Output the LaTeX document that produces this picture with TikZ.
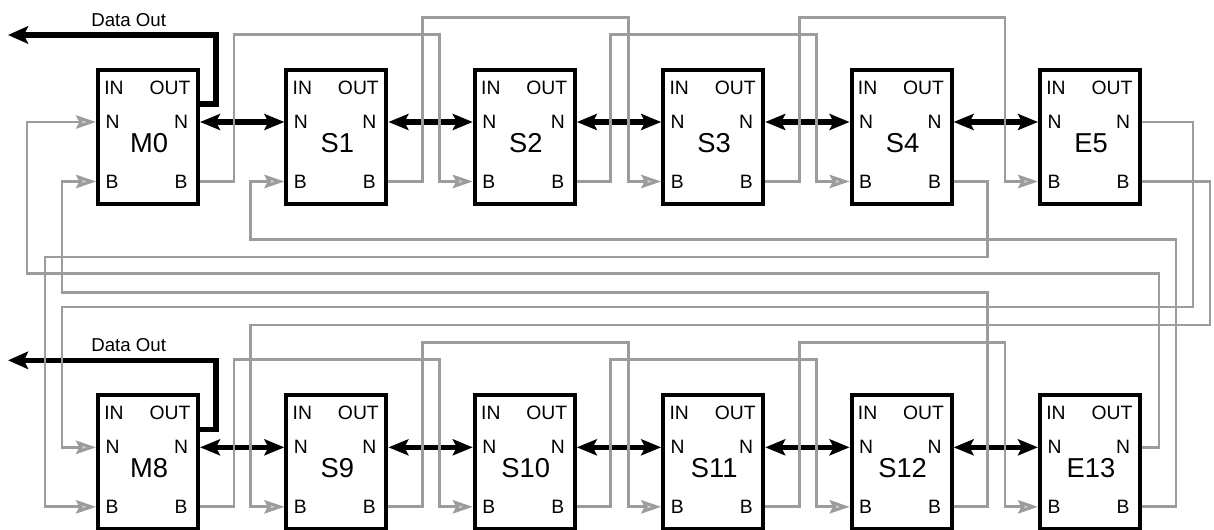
\documentclass[tikz,border=0pt]{standalone}
\usepackage{fontspec}
\setmainfont{Liberation Sans}
\usepackage{tikz}
\usetikzlibrary{positioning,arrows.meta}
\definecolor{BusGray}{HTML}{9C9C9C}
\definecolor{BusTip}{HTML}{D0D0D0}

\tikzset{
  unit/.style={draw=black,line width=3pt,fill=white,minimum width=75pt,minimum height=100.5pt,inner sep=0pt},
  port/.style={font=\fontsize{14.5}{16}\selectfont,inner sep=0pt},
  unitname/.style={font=\fontsize{20.5}{24}\selectfont,inner sep=0pt},
  nlink/.style={line width=4pt,{Stealth[length=15pt,width=12pt,inset=3pt]}-{Stealth[length=15pt,width=12pt,inset=3pt]}},
  dataout/.style={line width=4pt,-{Stealth[length=15pt,width=13pt,inset=3pt]}},
  dlabel/.style={font=\fontsize{14}{16}\selectfont,inner sep=0pt,above=4.5pt},
  bus/.style={draw=BusGray,line width=2.2pt,-{Stealth[length=15pt,width=10pt,inset=2.5pt,fill=BusTip]}},
}

\begin{document}
\begin{tikzpicture}[x=0.75pt,y=-0.75pt]
\useasboundingbox (0,0) rectangle (1214,530);
% upper row
\node[unit] (m0) at (148,137) {};
\node[unit,right=63.3pt of m0] (s1) {};
\node[unit,right=63.3pt of s1] (s2) {};
\node[unit,right=63.3pt of s2] (s3) {};
\node[unit,right=63.3pt of s3] (s4) {};
\node[unit,right=63.3pt of s4] (e5) {};
% lower row
\node[unit,below=140.5pt of m0] (m8) {};
\node[unit,right=63.3pt of m8] (s9) {};
\node[unit,right=63.3pt of s9] (s10) {};
\node[unit,right=63.3pt of s10] (s11) {};
\node[unit,right=63.3pt of s11] (s12) {};
\node[unit,right=63.3pt of s12] (e13) {};

\foreach \b in {m0,s1,s2,s3,s4,e5,m8,s9,s10,s11,s12,e13} {
  \coordinate (\b-ni) at ([shift={(0,-15)}]\b.west);
  \coordinate (\b-bi) at ([shift={(0,44.5)}]\b.west);
  \coordinate (\b-no) at ([shift={(0,-15)}]\b.east);
  \coordinate (\b-bo) at ([shift={(0,44.5)}]\b.east);
  \coordinate (\b-out) at ([shift={(0,-33)}]\b.east);
  \node[port] (\b-inl) at ([shift={(18,19.5)}]\b.north west) {IN};
  \node[port] (\b-outl) at ([shift={(-30,19.5)}]\b.north east) {OUT};
  \node[port] (\b-nl) at ([shift={(16.5,0)}]\b-ni) {N};
  \node[port] (\b-nr) at ([shift={(-19,0)}]\b-no) {N};
  \node[port] (\b-bl) at ([shift={(16,0)}]\b-bi) {B};
  \node[port] (\b-br) at ([shift={(-19,0)}]\b-bo) {B};
}
\foreach \b/\t in {m0/M0,s1/S1,s2/S2,s3/S3,s4/S4,e5/E5,m8/M8,s9/S9,s10/S10,s11/S11,s12/S12,e13/E13}
  \node[unitname] (\b-name) at ([shift={(1,6)}]\b.center) {\t};

% N neighbour links
\foreach \a/\c in {m0/s1,s1/s2,s2/s3,s3/s4,s4/e5,m8/s9,s9/s10,s10/s11,s11/s12,s12/e13}
  \draw[nlink] (\a-no) -- (\c-ni);

% data out
\coordinate (do0) at ([shift={(-192,-69)}]m0-out);
\coordinate (do8) at ([shift={(-192,-69)}]m8-out);
\draw[dataout] (m0-out) -- ++(16,0) |- node[pos=0.71,dlabel] (do0-lbl) {Data Out} (do0);
\draw[dataout] (m8-out) -- ++(16,0) |- node[pos=0.71,dlabel] (do8-lbl) {Data Out} (do8);

% B links two ahead
\foreach \a/\c/\h in {m0/s2/147,s1/s3/164,s2/s4/147,s3/e5/164,m8/s10/147,s9/s11/164,s10/s12/147,s11/e13/164}
  \draw[bus] (\a-bo) -- ++(34,0) -- ++(0,-\h) -| ([shift={(-33,0)}]\c-bi) -- (\c-bi);

% links between the rows
\draw[bus] (s4-bo) -- ++(34,0) -- ++(0,75.5) -| ([shift={(-51,0)}]m8-bi) -- (m8-bi);
\draw[bus] (e5-no) -- ++(51,0) -- ++(0,185) -| ([shift={(-34,0)}]m8-ni) -- (m8-ni);
\draw[bus] (e5-bo) -- ++(68,0) -- ++(0,143.5) -| ([shift={(-34,0)}]s9-bi) -- (s9-bi);
\draw[bus] (e13-no) -- ++(17,0) -- ++(0,-174) -| ([shift={(-69,0)}]m0-ni) -- (m0-ni);
\draw[bus] (e13-bo) -- ++(34,0) -- ++(0,-267.5) -| ([shift={(-34,0)}]s1-bi) -- (s1-bi);
\draw[bus] (s12-bo) -- ++(34,0) -- ++(0,-214.5) -| ([shift={(-34,0)}]m0-bi) -- (m0-bi);
\end{tikzpicture}
\end{document}
